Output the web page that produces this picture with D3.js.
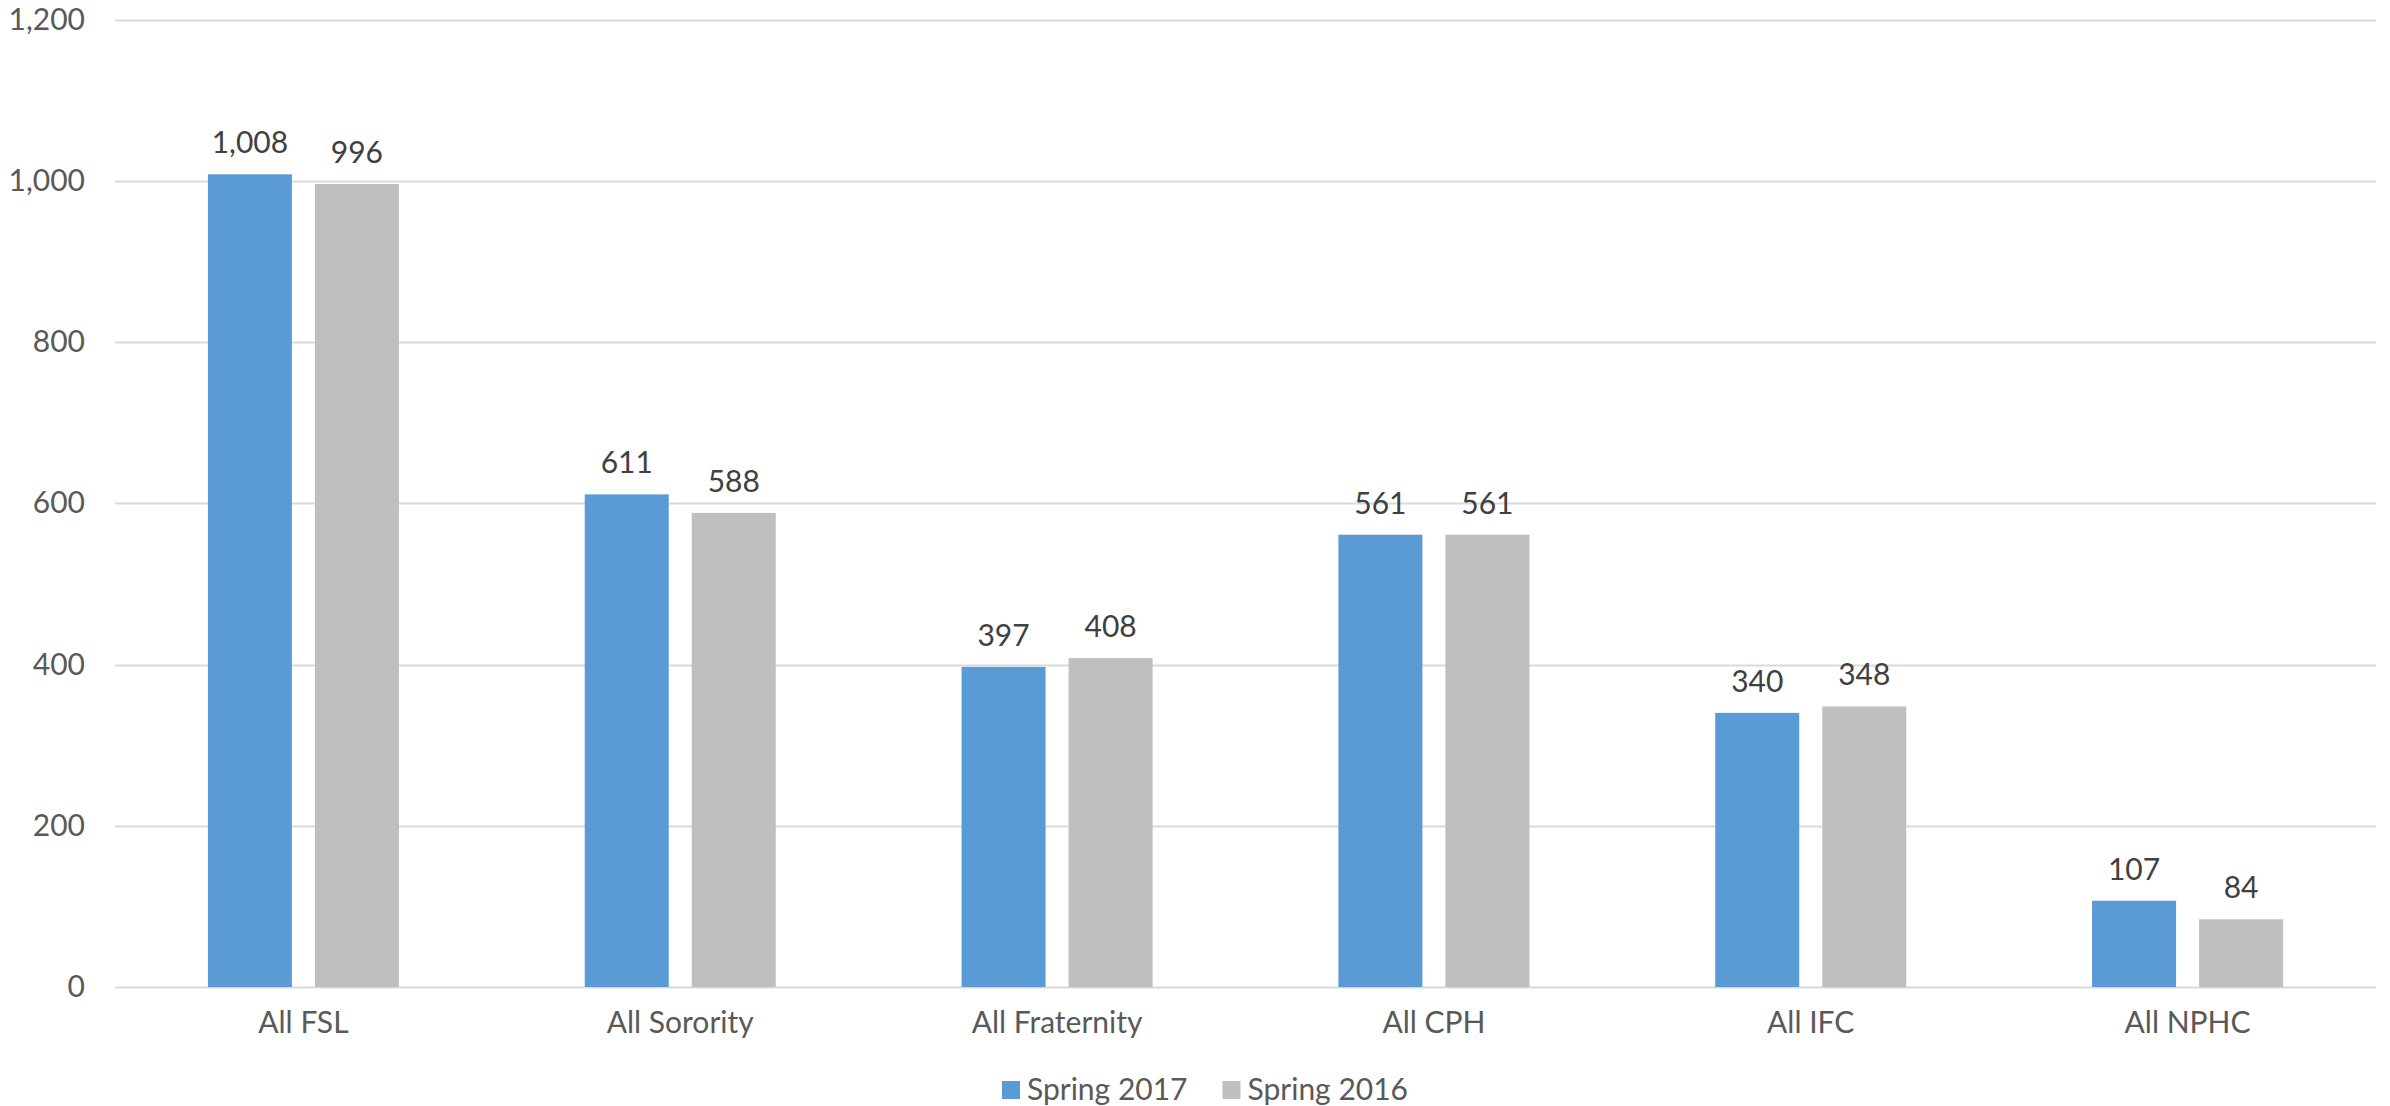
<!DOCTYPE html>
<html>
<head>
<meta charset="utf-8">
<script src="https://cdn.jsdelivr.net/npm/d3@7"></script>
<style>
  html, body { margin: 0; padding: 0; background: #fff; }
  text { font-family: Lato, "Open Sans", sans-serif; }
</style>
</head>
<body>
<svg id="chart" width="2390" height="1106"></svg>
<script>
const categories = ["All FSL", "All Sorority", "All Fraternity", "All CPH", "All IFC", "All NPHC"];
const seriesNames = ["Spring 2017", "Spring 2016"];
const spring2017 = [1008, 611, 397, 561, 340, 107];
const spring2016 = [996, 588, 408, 561, 348, 84];
const yTicks = [0, 200, 400, 600, 800, 1000, 1200];
const colors = ["#5b9bd5", "#bfbfbf"];

const seriesValues = [spring2017, spring2016];
const svg = d3.select("#chart");
const plotLeft = 115, plotRight = 2376, plotTop = 19.5, plotBottom = 987;
const fmt = d3.format(",");
const fs = 30;

const y = d3.scaleLinear().domain([0, 1200]).range([plotBottom, plotTop]);
const x0 = d3.scaleBand().domain(categories).range([plotLeft, plotRight]).paddingInner(0).paddingOuter(0);
const x1 = d3.scaleBand().domain(seriesNames).range([0, x0.bandwidth()]).paddingInner(0.215).paddingOuter(0.868);

// gridlines
svg.append("g").selectAll("line").data(yTicks).join("line")
  .attr("x1", plotLeft).attr("x2", plotRight)
  .attr("y1", d => Math.round(y(d)) + 0.5).attr("y2", d => Math.round(y(d)) + 0.5)
  .attr("stroke", "#d9d9d9").attr("stroke-width", 2);

// y axis labels
const yAxis = d3.axisLeft(y).tickValues(yTicks).tickFormat(fmt).tickSize(0).tickPadding(0);
const yg = svg.append("g").attr("transform", `translate(${plotLeft - 30},0)`).call(yAxis);
yg.select(".domain").remove();
yg.selectAll("text").attr("font-size", fs).attr("fill", "#595959").attr("font-family", "Lato, sans-serif");

// bars
const groups = svg.append("g").selectAll("g").data(categories).join("g")
  .attr("transform", d => `translate(${x0(d)},0)`);

groups.selectAll("rect").data((d, i) => seriesNames.map((s, j) => ({ s, v: seriesValues[j][i], j })))
  .join("rect")
  .attr("x", d => x1(d.s))
  .attr("width", x1.bandwidth())
  .attr("y", d => y(d.v))
  .attr("height", d => y(0) - y(d.v))
  .attr("fill", d => colors[d.j]);

groups.selectAll("text.val").data((d, i) => seriesNames.map((s, j) => ({ s, v: seriesValues[j][i], j })))
  .join("text").attr("class", "val")
  .attr("x", d => x1(d.s) + x1.bandwidth() / 2)
  .attr("y", d => y(d.v) - 21)
  .attr("text-anchor", "middle")
  .attr("font-size", fs)
  .attr("fill", "#404040")
  .text(d => fmt(d.v));

// x axis labels
const xAxis = d3.axisBottom(x0).tickSize(0).tickPadding(0);
const xg = svg.append("g").attr("transform", `translate(0,${plotBottom + 25})`).call(xAxis);
xg.select(".domain").remove();
xg.selectAll("text").attr("font-size", fs).attr("fill", "#595959").attr("font-family", "Lato, sans-serif");

// legend (centred, laid out from measured text widths)
const legend = svg.append("g");
const items = legend.selectAll("g").data(seriesNames).join("g");
items.append("rect").attr("x", 0).attr("y", 1081).attr("width", 18).attr("height", 18)
  .attr("fill", (d, i) => colors[i]);
items.append("text").attr("x", 25).attr("y", 1100).attr("font-size", fs).attr("fill", "#595959").text(d => d);
let cursor = 0;
const offsets = [];
items.each(function () {
  const w = 25 + this.querySelector("text").getComputedTextLength();
  offsets.push(cursor);
  cursor += w + 35;
});
const totalW = cursor - 35;
const startX = 1205 - totalW / 2;
items.attr("transform", (d, i) => `translate(${startX + offsets[i]},0)`);
</script>
</body>
</html>
